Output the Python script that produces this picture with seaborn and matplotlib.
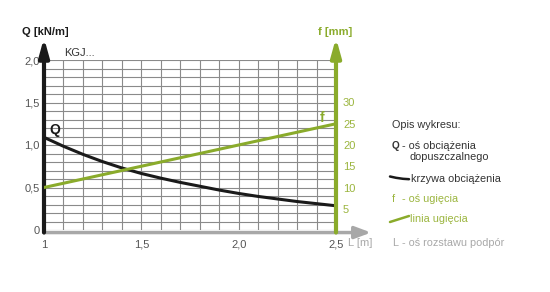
import numpy as np
import pandas as pd
import matplotlib
matplotlib.use("Agg")
import matplotlib.pyplot as plt
import seaborn as sns
from matplotlib.ticker import MultipleLocator

sns.set_theme(style="white")
plt.rcParams['font.family'] = ['Liberation Sans', 'DejaVu Sans']

# Data
L_vals = [1.0, 1.1, 1.2, 1.3, 1.4, 1.5, 1.6, 1.7, 1.8, 1.9, 2.0, 2.1, 2.2, 2.3, 2.4, 2.5]
Q_vals = [1.09, 0.985, 0.89, 0.805, 0.73, 0.665, 0.61, 0.56, 0.515, 0.47, 0.43, 0.395, 0.365, 0.335, 0.31, 0.285]
L_f = [1.0, 2.5]
f_vals = [10, 25]
x_ticks = [1.0, 1.5, 2.0, 2.5]
x_labels = ["1", "1,5", "2,0", "2,5"]
q_ticks = [0, 0.5, 1.0, 1.5, 2.0]
q_labels = ["0", "0,5", "1,0", "1,5", "2,0"]
f_ticks = [5, 10, 15, 20, 25, 30]
f_labels = ["5", "10", "15", "20", "25", "30"]

GREEN = "#8aab2b"
GREEN_T = "#9bb53e"
GRAY = "#a8a8a8"
DARK = "#1a1a1a"
TXT = "#555555"

W, H = 550, 292
fig = plt.figure(figsize=(5.5, 2.92), dpi=100)
x0, x1, y0, y1 = 44, 336, 230, 60
ax = fig.add_axes([x0 / W, 1 - y0 / H, (x1 - x0) / W, (y0 - y1) / H])
ax.set_xlim(1, 2.5)
ax.set_ylim(0, 2.0)

# grid
ax.xaxis.set_minor_locator(MultipleLocator(0.1))
ax.yaxis.set_minor_locator(MultipleLocator(0.1))
ax.grid(which="both", color="#8a8a8a", linewidth=0.8)
ax.set_axisbelow(True)
for s in ax.spines.values():
    s.set_visible(False)

ax.set_xticks(x_ticks)
ax.set_xticklabels(x_labels)
ax.set_yticks(q_ticks)
ax.set_yticklabels(q_labels)
ax.tick_params(axis="both", which="both", length=0, labelsize=8, labelcolor=TXT)
ax.tick_params(axis="x", pad=7)
ax.tick_params(axis="y", pad=3)

dfQ = pd.DataFrame({"L": L_vals, "Q": Q_vals})
sns.lineplot(data=dfQ, x="L", y="Q", ax=ax, color=DARK, linewidth=2.2)
ax.set_xlabel("")
ax.set_ylabel("")

ax2 = ax.twinx()
ax2.set_ylim(0, 40)
ax2.set_yticks(f_ticks)
ax2.set_yticklabels(f_labels)
ax2.tick_params(axis="y", length=0, labelsize=8, labelcolor=GREEN_T, pad=5)
for s in ax2.spines.values():
    s.set_visible(False)
dff = pd.DataFrame({"L": L_f, "f": f_vals})
sns.lineplot(data=dff, x="L", y="f", ax=ax2, color=GREEN, linewidth=2.2)
ax2.set_xlabel("")
ax2.set_ylabel("")
ax2.set_xlim(1, 2.5)
ax2.grid(False)

# axes arrows
ax.annotate("", xy=(2.68, -0.03), xytext=(1.0, -0.03), xycoords="data",
            arrowprops=dict(arrowstyle="-|>,head_length=0.8,head_width=0.3", color=GRAY, lw=2.5, shrinkA=0, shrinkB=0),
            annotation_clip=False, zorder=5)
ax.annotate("", xy=(1.0, 2.26), xytext=(1.0, -0.03),
            arrowprops=dict(arrowstyle="-|>,head_length=0.9,head_width=0.25", color=DARK, lw=3, shrinkA=0, shrinkB=0),
            annotation_clip=False, zorder=6)
ax.annotate("", xy=(2.5, 2.26), xytext=(2.5, -0.03),
            arrowprops=dict(arrowstyle="-|>,head_length=0.9,head_width=0.25", color=GREEN, lw=3, shrinkA=0, shrinkB=0),
            annotation_clip=False, zorder=6)

def ft(x, y, s, **kw):
    fig.text(x / W, 1 - y / H, s, va="center", **kw)

ft(22, 32, "Q [kN/m]", fontsize=8, fontweight="bold", color=DARK)
ft(318, 32, "f [mm]", fontsize=8, fontweight="bold", color=GREEN)
ft(348, 243, "L [m]", fontsize=8, color=GRAY)
ft(64, 53, "KGJ...", fontsize=8, color="#333333")
ft(49, 130, "Q", fontsize=10, fontweight="bold", color=DARK)
ft(320, 118, "f", fontsize=10, fontweight="bold", color=GREEN)

# legend description
LF = 7.8
ft(392, 125, "Opis wykresu:", fontsize=LF, color="#333333")
ft(392, 146, "Q", fontsize=7.2, fontweight="bold", color="#333333")
ft(402, 146, "- oś obciążenia", fontsize=LF, color="#333333")
ft(410, 156.5, "dopuszczalnego", fontsize=LF, color="#333333")
ft(411, 179, "krzywa obciążenia", fontsize=LF, color="#333333")
ft(392, 199, "f", fontsize=LF, color=GREEN_T)
ft(402, 199, "- oś ugięcia", fontsize=LF, color=GREEN_T)
ft(410, 219, "linia ugięcia", fontsize=LF, color=GREEN_T)
ft(392, 243, "L", fontsize=LF, color=GRAY)
ft(402, 243, "- oś rozstawu podpór", fontsize=LF, color=GRAY)

# legend symbols
lx = np.array([390, 396, 403, 409])
ly = np.array([176.5, 177.8, 178.8, 179.2])
fig.add_artist(plt.Line2D(lx / W, 1 - ly / H, color=DARK, lw=1.8))
fig.add_artist(plt.Line2D(np.array([390, 409]) / W, 1 - np.array([222, 216]) / H, color=GREEN, lw=1.8))

fig.savefig("out.png", dpi=100)
